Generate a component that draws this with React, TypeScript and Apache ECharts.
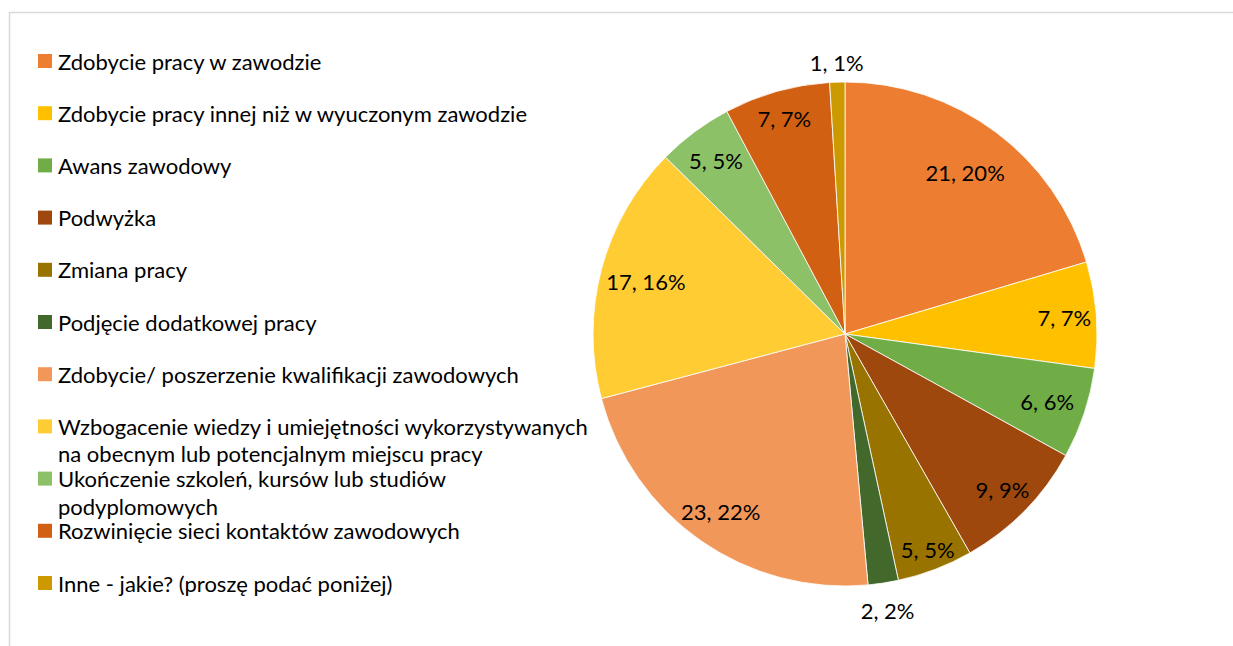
import React, { useEffect, useRef } from "react";
import * as echarts from "echarts";

const categories = [
  "Zdobycie pracy w zawodzie",
  "Zdobycie pracy innej niż w wyuczonym zawodzie",
  "Awans zawodowy",
  "Podwyżka",
  "Zmiana pracy",
  "Podjęcie dodatkowej pracy",
  "Zdobycie/ poszerzenie kwalifikacji zawodowych",
  "Wzbogacenie wiedzy i umiejętności wykorzystywanych\nna obecnym lub potencjalnym miejscu pracy",
  "Ukończenie szkoleń, kursów lub studiów\npodyplomowych",
  "Rozwinięcie sieci kontaktów zawodowych",
  "Inne - jakie? (proszę podać poniżej)",
];
const values = [21, 7, 6, 9, 5, 2, 23, 17, 5, 7, 1];
const percents = [20, 7, 6, 9, 5, 2, 22, 16, 5, 7, 1];
const colors = [
  "#ED7D31", "#FFC000", "#70AD47", "#9E480E", "#997300", "#43682B",
  "#F1975A", "#FFCD33", "#8CC168", "#D26012", "#CC9A00",
];
// distance of each data label from the pie centre (px), as placed in the reference
const labelRadius = [198, 217, 210, 218, 228, 277, 214, 203, 213, 221, 269];

const FONT = "Lato, 'Open Sans', sans-serif";
const FS = 22;

export default function App() {
  const ref = useRef<HTMLDivElement>(null);
  useEffect(() => {
    if (!ref.current) return;
    document.body.style.margin = "0";
    const chart = echarts.init(ref.current, undefined, { renderer: "svg" });
    const cx = 845, cy = 334, R = 252;
    const legendTop = 61, legendGap = 52.2, lineGap = 27.5;
    const graphic: any[] = [
      {
        type: "rect",
        shape: { x: 9.5, y: 12.5, width: 1240, height: 700 },
        style: { fill: "none", stroke: "#D9D9D9", lineWidth: 1.5 },
        silent: true,
      },
    ];
    categories.forEach((name, i) => {
      const y = legendTop + i * legendGap;
      graphic.push({
        type: "rect",
        shape: { x: 38, y: y - 7, width: 14, height: 14 },
        style: { fill: colors[i] },
      });
      name.split("\n").forEach((line, j) => {
        graphic.push({
          type: "text",
          x: 58,
          y: y + j * lineGap,
          style: {
            text: line,
            fill: "#000",
            font: `${FS}px ${FONT}`,
            lineHeight: 23,
            verticalAlign: "middle",
            align: "left",
          },
        });
      });
    });
    const labelText = (i: number) => `${values[i]}, ${percents[i]}%`;
    const baseData = categories.map((name, i) => ({
      name,
      value: values[i],
      itemStyle: { color: colors[i] },
    }));
    const labelSeries = categories.map((_, k) => ({
      type: "pie",
      center: [cx, cy],
      radius: [0, labelRadius[k] * 2],
      startAngle: 90,
      clockwise: true,
      silent: true,
      itemStyle: { color: "transparent" },
      labelLine: { show: false },
      emphasis: { disabled: true },
      data: categories.map((name, i) => ({
        name,
        value: values[i],
        label: {
          show: i === k,
          position: "inside",
          formatter: () => labelText(i),
          color: "#000",
          fontSize: FS,
          fontFamily: FONT,
        },
      })),
    }));
    chart.setOption({
      animation: false,
      graphic,
      series: [
        {
          type: "pie",
          center: [cx, cy],
          radius: [0, R],
          startAngle: 90,
          clockwise: true,
          label: { show: false },
          labelLine: { show: false },
          itemStyle: { borderColor: "#fff", borderWidth: 0.8 },
          emphasis: { disabled: true },
          data: baseData,
        },
        ...labelSeries,
      ],
    });
    return () => chart.dispose();
  }, []);
  return <div ref={ref} style={{ width: 1233, height: 646 }} />;
}
